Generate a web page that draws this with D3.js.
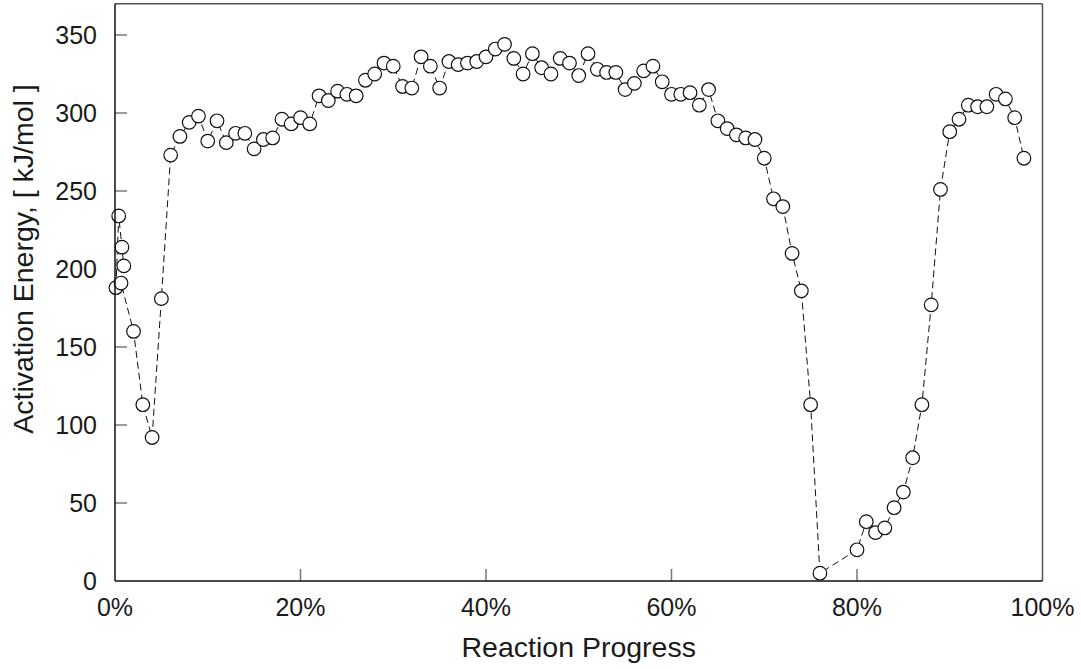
<!DOCTYPE html>
<html>
<head>
<meta charset="utf-8">
<script src="https://cdn.jsdelivr.net/npm/d3@7"></script>
<style>
  body { margin: 0; background: #fff; }
  svg text { font-family: "Liberation Sans", Arial, sans-serif; fill: #1a1a1a; }
</style>
</head>
<body>
<div id="vis-container"></div>
<script>
// ------------------------------ DATA ------------------------------ //
// Reaction progress (%) for each sample, in recorded order
const progress = [
  0.1, 0.4, 0.75, 0.95, 0.65, 2, 3, 4, 5,
  6, 7, 8, 9, 10, 11, 12, 13, 14, 15, 16, 17, 18, 19, 20,
  21, 22, 23, 24, 25, 26, 27, 28, 29, 30, 31, 32, 33, 34, 35,
  36, 37, 38, 39, 40, 41, 42, 43, 44, 45, 46, 47, 48, 49, 50,
  51, 52, 53, 54, 55, 56, 57, 58, 59, 60, 61, 62, 63, 64, 65,
  66, 67, 68, 69, 70, 71, 72, 73, 74, 75, 76,
  80, 81, 82, 83, 84, 85, 86, 87, 88, 89, 90,
  91, 92, 93, 94, 95, 96, 97, 98
];

// Activation energy (kJ/mol) matching each progress value
const energy = [
  188, 234, 214, 202, 191, 160, 113, 92, 181,
  273, 285, 294, 298, 282, 295, 281, 287, 287, 277, 283, 284, 296, 293, 297,
  293, 311, 308, 314, 312, 311, 321, 325, 332, 330, 317, 316, 336, 330, 316,
  333, 331, 332, 333, 336, 341, 344, 335, 325, 338, 329, 325, 335, 332, 324,
  338, 328, 326, 326, 315, 319, 327, 330, 320, 312, 312, 313, 305, 315, 295,
  290, 286, 284, 283, 271, 245, 240, 210, 186, 113, 5,
  20, 38, 31, 34, 47, 57, 79, 113, 177, 251, 288,
  296, 305, 304, 304, 312, 309, 297, 271
];

const xTicks = [0, 20, 40, 60, 80, 100];
const yTicks = [0, 50, 100, 150, 200, 250, 300, 350];

// ------------------------------ SET UP ------------------------------ //
const width = 1081;
const height = 669;
const plot = { left: 115, right: 1042.5, top: 3.8, bottom: 581 };
const tickLen = 12;

const svg = d3.select("#vis-container")
  .append("svg")
  .attr("width", width)
  .attr("height", height);

const xScale = d3.scaleLinear()
  .domain([0, 100])
  .range([plot.left, plot.right]);

const yScale = d3.scaleLinear()
  .domain([0, 370])
  .range([plot.bottom, plot.top]);

const points = progress.map((p, i) => ({ p: p, e: energy[i] }));

// ------------------------------ AXES ------------------------------ //
// Inner ticks (grey, pointing into the plot)
svg.append("g")
  .selectAll("line")
  .data(yTicks.filter(t => t > 0))
  .enter()
  .append("line")
  .attr("x1", plot.left)
  .attr("x2", plot.left + tickLen)
  .attr("y1", d => yScale(d))
  .attr("y2", d => yScale(d))
  .attr("stroke", "#777")
  .attr("stroke-width", 1.5);

svg.append("g")
  .selectAll("line")
  .data(xTicks.filter(t => t > 0 && t < 100))
  .enter()
  .append("line")
  .attr("x1", d => xScale(d))
  .attr("x2", d => xScale(d))
  .attr("y1", plot.bottom)
  .attr("y2", plot.bottom - tickLen)
  .attr("stroke", "#777")
  .attr("stroke-width", 1.5);

// Tick labels
svg.append("g")
  .selectAll("text")
  .data(yTicks)
  .enter()
  .append("text")
  .attr("x", plot.left - 18)
  .attr("y", d => yScale(d))
  .attr("dy", "0.36em")
  .attr("text-anchor", "end")
  .attr("font-size", "25px")
  .text(d => d);

svg.append("g")
  .selectAll("text")
  .data(xTicks)
  .enter()
  .append("text")
  .attr("x", d => xScale(d))
  .attr("y", 616)
  .attr("text-anchor", "middle")
  .attr("font-size", "25px")
  .text(d => d + "%");

// Axis titles
svg.append("text")
  .attr("x", (plot.left + plot.right) / 2)
  .attr("y", 657)
  .attr("text-anchor", "middle")
  .attr("font-size", "28.5px")
  .text("Reaction Progress");

svg.append("text")
  .attr("transform", "translate(33,259) rotate(-90)")
  .attr("text-anchor", "middle")
  .attr("font-size", "28.5px")
  .text("Activation Energy, [ kJ/mol ]");

// ------------------------------ SERIES ------------------------------ //
const line = d3.line()
  .x(d => xScale(d.p))
  .y(d => yScale(d.e));

svg.append("path")
  .datum(points)
  .attr("d", line)
  .attr("fill", "none")
  .attr("stroke", "#111")
  .attr("stroke-width", 1)
  .attr("stroke-dasharray", "7,4");

svg.append("g")
  .selectAll("circle")
  .data(points)
  .enter()
  .append("circle")
  .attr("cx", d => xScale(d.p))
  .attr("cy", d => yScale(d.e))
  .attr("r", 6.8)
  .attr("fill", "#fff")
  .attr("stroke", "#111")
  .attr("stroke-width", 1.2);

// Plot frame
svg.append("line")
  .attr("x1", plot.left).attr("x2", plot.right)
  .attr("y1", plot.top).attr("y2", plot.top)
  .attr("stroke", "#555").attr("stroke-width", 1.5);
svg.append("line")
  .attr("x1", plot.right).attr("x2", plot.right)
  .attr("y1", plot.top).attr("y2", plot.bottom)
  .attr("stroke", "#555").attr("stroke-width", 1.5);
svg.append("line")
  .attr("x1", plot.left).attr("x2", plot.left)
  .attr("y1", plot.top).attr("y2", plot.bottom)
  .attr("stroke", "#111").attr("stroke-width", 1.5);
svg.append("line")
  .attr("x1", plot.left).attr("x2", plot.right)
  .attr("y1", plot.bottom).attr("y2", plot.bottom)
  .attr("stroke", "#111").attr("stroke-width", 1.5);
</script>
</body>
</html>
